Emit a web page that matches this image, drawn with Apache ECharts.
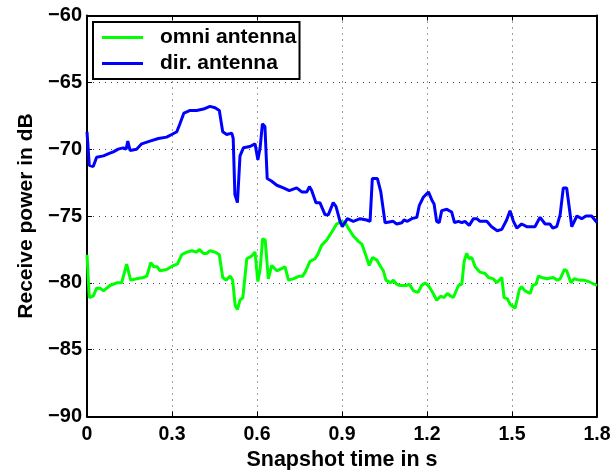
<!DOCTYPE html>
<html><head><meta charset="utf-8">
<script src="https://cdn.jsdelivr.net/npm/echarts@6/dist/echarts.min.js"></script>
<style>html,body{margin:0;padding:0;background:#fff}#c{width:613px;height:470px}</style>
</head><body><div id="c"></div>
<script>
var dirTime = [0.000,0.008,0.022,0.034,0.058,0.081,0.093,0.110,0.128,0.138,0.144,0.152,0.175,0.193,0.222,0.252,0.281,0.299,0.317,0.328,0.342,0.364,0.387,0.411,0.434,0.452,0.467,0.479,0.493,0.511,0.516,0.522,0.531,0.540,0.552,0.575,0.593,0.603,0.611,0.619,0.628,0.636,0.652,0.670,0.693,0.714,0.740,0.758,0.776,0.785,0.793,0.808,0.822,0.840,0.852,0.869,0.879,0.893,0.901,0.919,0.940,0.964,0.987,0.999,1.007,1.025,1.037,1.044,1.052,1.081,1.093,1.111,1.119,1.131,1.146,1.164,1.173,1.187,1.205,1.217,1.225,1.234,1.243,1.252,1.270,1.287,1.297,1.311,1.323,1.334,1.349,1.364,1.376,1.387,1.411,1.428,1.448,1.464,1.481,1.493,1.505,1.517,1.534,1.552,1.581,1.599,1.617,1.634,1.644,1.658,1.670,1.681,1.693,1.711,1.729,1.746,1.761,1.781,1.800];
var dirPower = [-68.7,-71.2,-71.3,-70.6,-70.5,-70.3,-70.2,-70.0,-69.9,-70.0,-69.4,-70.1,-70.0,-69.6,-69.4,-69.2,-69.1,-68.9,-68.7,-68.1,-67.3,-67.1,-67.1,-67.0,-66.8,-66.9,-67.1,-68.7,-68.9,-68.8,-69.2,-73.4,-74.0,-70.5,-69.9,-69.8,-69.6,-70.8,-69.9,-68.1,-68.3,-72.2,-72.4,-72.7,-72.9,-73.1,-72.9,-73.2,-73.2,-72.8,-73.1,-74.0,-74.0,-74.9,-74.9,-74.0,-74.3,-75.4,-75.8,-75.2,-75.4,-75.2,-75.3,-75.4,-72.2,-72.2,-73.2,-73.2,-75.5,-75.4,-75.6,-75.5,-75.3,-75.4,-75.2,-75.1,-74.2,-73.6,-73.2,-73.8,-74.1,-75.4,-75.5,-74.6,-74.5,-74.7,-75.5,-75.4,-75.5,-75.4,-75.7,-75.2,-75.2,-75.4,-75.4,-75.8,-76.1,-76.0,-75.3,-74.6,-75.4,-75.9,-75.6,-75.8,-75.8,-75.1,-75.6,-75.6,-75.9,-75.8,-74.9,-72.9,-72.9,-75.8,-75.0,-75.2,-75.0,-75.0,-75.5];
var omniTime = [0.000,0.008,0.022,0.034,0.046,0.058,0.081,0.105,0.122,0.128,0.140,0.146,0.154,0.175,0.199,0.211,0.225,0.236,0.248,0.258,0.281,0.305,0.319,0.334,0.352,0.370,0.387,0.396,0.411,0.423,0.434,0.452,0.467,0.479,0.491,0.505,0.514,0.523,0.531,0.540,0.550,0.564,0.581,0.593,0.603,0.611,0.620,0.629,0.640,0.652,0.670,0.699,0.711,0.728,0.749,0.761,0.770,0.787,0.805,0.816,0.828,0.846,0.864,0.881,0.899,0.911,0.922,0.940,0.958,0.970,0.985,0.996,1.008,1.023,1.034,1.046,1.055,1.072,1.081,1.093,1.105,1.128,1.138,1.152,1.169,1.181,1.193,1.205,1.222,1.234,1.248,1.260,1.272,1.284,1.293,1.311,1.323,1.331,1.340,1.349,1.358,1.370,1.387,1.405,1.417,1.434,1.446,1.464,1.472,1.484,1.493,1.511,1.526,1.534,1.546,1.564,1.573,1.585,1.593,1.605,1.623,1.646,1.660,1.670,1.685,1.693,1.708,1.719,1.738,1.752,1.770,1.800];
var omniPower = [-77.9,-81.1,-81.0,-80.4,-80.4,-80.6,-80.2,-80.0,-80.0,-79.9,-78.6,-78.6,-79.8,-79.7,-79.6,-79.5,-78.5,-78.8,-78.8,-79.1,-79.0,-78.7,-78.6,-77.9,-77.7,-77.6,-77.7,-77.5,-77.8,-77.8,-77.6,-77.7,-77.9,-79.6,-79.8,-79.5,-79.8,-81.7,-82.0,-81.3,-81.1,-78.2,-78.0,-77.7,-79.9,-79.0,-76.7,-76.8,-79.7,-78.7,-79.1,-78.8,-79.8,-79.7,-79.5,-79.5,-79.2,-78.4,-78.2,-77.8,-77.2,-76.8,-76.2,-75.6,-75.4,-75.5,-75.9,-76.5,-76.9,-77.1,-78.0,-78.7,-78.1,-78.3,-78.7,-79.1,-79.8,-80.0,-79.8,-80.1,-80.2,-80.2,-80.1,-80.6,-80.7,-80.2,-80.0,-80.2,-80.8,-81.3,-81.0,-81.1,-80.8,-81.0,-81.1,-80.2,-80.1,-78.4,-77.8,-78.2,-78.1,-78.8,-79.2,-79.3,-79.6,-79.7,-80.0,-79.6,-81.1,-81.2,-81.6,-81.9,-80.5,-80.3,-80.6,-80.8,-80.2,-80.1,-79.5,-79.6,-79.7,-79.6,-79.8,-79.7,-79.0,-79.1,-80.0,-79.7,-79.8,-79.8,-79.9,-80.2];
var seriesNames = ['omni antenna', 'dir. antenna'];
var xTicks = [0, 0.3, 0.6, 0.9, 1.2, 1.5, 1.8];
var yTicks = [-90, -85, -80, -75, -70, -65, -60];

function zip(a, b) { return a.map(function (v, i) { return [v, b[i]]; }); }
var FONT = '"Liberation Sans", Arial, Helvetica, sans-serif';
var tickStyle = { color: '#000', fontFamily: FONT, fontWeight: 'bold', fontSize: 20 };
var titleStyle = { color: '#000', fontFamily: FONT, fontWeight: 'bold', fontSize: 21 };
var split = { show: true, lineStyle: { color: '#444', type: [1, 5], width: 1 } };
var frame = { show: true, onZero: false, lineStyle: { color: '#000', width: 2 } };
var ticks = { show: true, inside: true, length: 5, lineStyle: { color: '#000', width: 1 } };

var chart = echarts.init(document.getElementById('c'), null, { renderer: 'canvas' });
chart.setOption({
  animation: false,
  backgroundColor: '#fff',
  grid: { left: 87, right: 16, top: 15.5, bottom: 53.5, containLabel: false, outerBoundsMode: 'none' },
  legend: {
    left: 93, top: 22, orient: 'vertical',
    data: seriesNames,
    icon: 'rect', itemWidth: 41, itemHeight: 3, itemGap: 5,
    borderColor: '#000', borderWidth: 2,
    padding: [5, 3, 5, 9],
    backgroundColor: '#fff',
    textStyle: { color: '#000', fontFamily: FONT, fontWeight: 'bold', fontSize: 21, lineHeight: 21, padding: [0, 0, 0, 12] }
  },
  xAxis: [{
    type: 'value', min: 0, max: 1.8, interval: 0.3,
    name: 'Snapshot time in s', nameLocation: 'middle', nameGap: 27,
    nameTextStyle: Object.assign({}, titleStyle, { fontSize: 21.5 }),
    axisLine: frame, axisTick: ticks,
    axisLabel: Object.assign({ margin: 8, formatter: function (v) { return v === 0 ? '0' : v.toFixed(1); } }, tickStyle, { fontSize: 19.5 }),
    splitLine: split
  }, {
    type: 'value', min: 0, max: 1.8, interval: 0.3, position: 'top',
    axisLine: frame, axisTick: ticks,
    axisLabel: { show: false }, splitLine: { show: false }
  }],
  yAxis: [{
    type: 'value', min: -90, max: -60, interval: 5,
    name: 'Receive power in dB', nameLocation: 'middle', nameGap: 46,
    nameTextStyle: titleStyle,
    axisLine: frame, axisTick: ticks,
    axisLabel: Object.assign({ margin: 5, formatter: function (v) { return String(v).replace('-', '\u2212'); } }, tickStyle),
    splitLine: split
  }, {
    type: 'value', min: -90, max: -60, interval: 5, position: 'right',
    axisLine: frame, axisTick: ticks,
    axisLabel: { show: false }, splitLine: { show: false }
  }],
  series: [{
    name: seriesNames[0], type: 'line', data: zip(omniTime, omniPower),
    showSymbol: false, symbol: 'none', color: '#00ff00',
    lineStyle: { color: '#00ff00', width: 3 }
  }, {
    name: seriesNames[1], type: 'line', data: zip(dirTime, dirPower),
    showSymbol: false, symbol: 'none', color: '#0000ff',
    lineStyle: { color: '#0000ff', width: 3 }
  }]
});
</script></body></html>
